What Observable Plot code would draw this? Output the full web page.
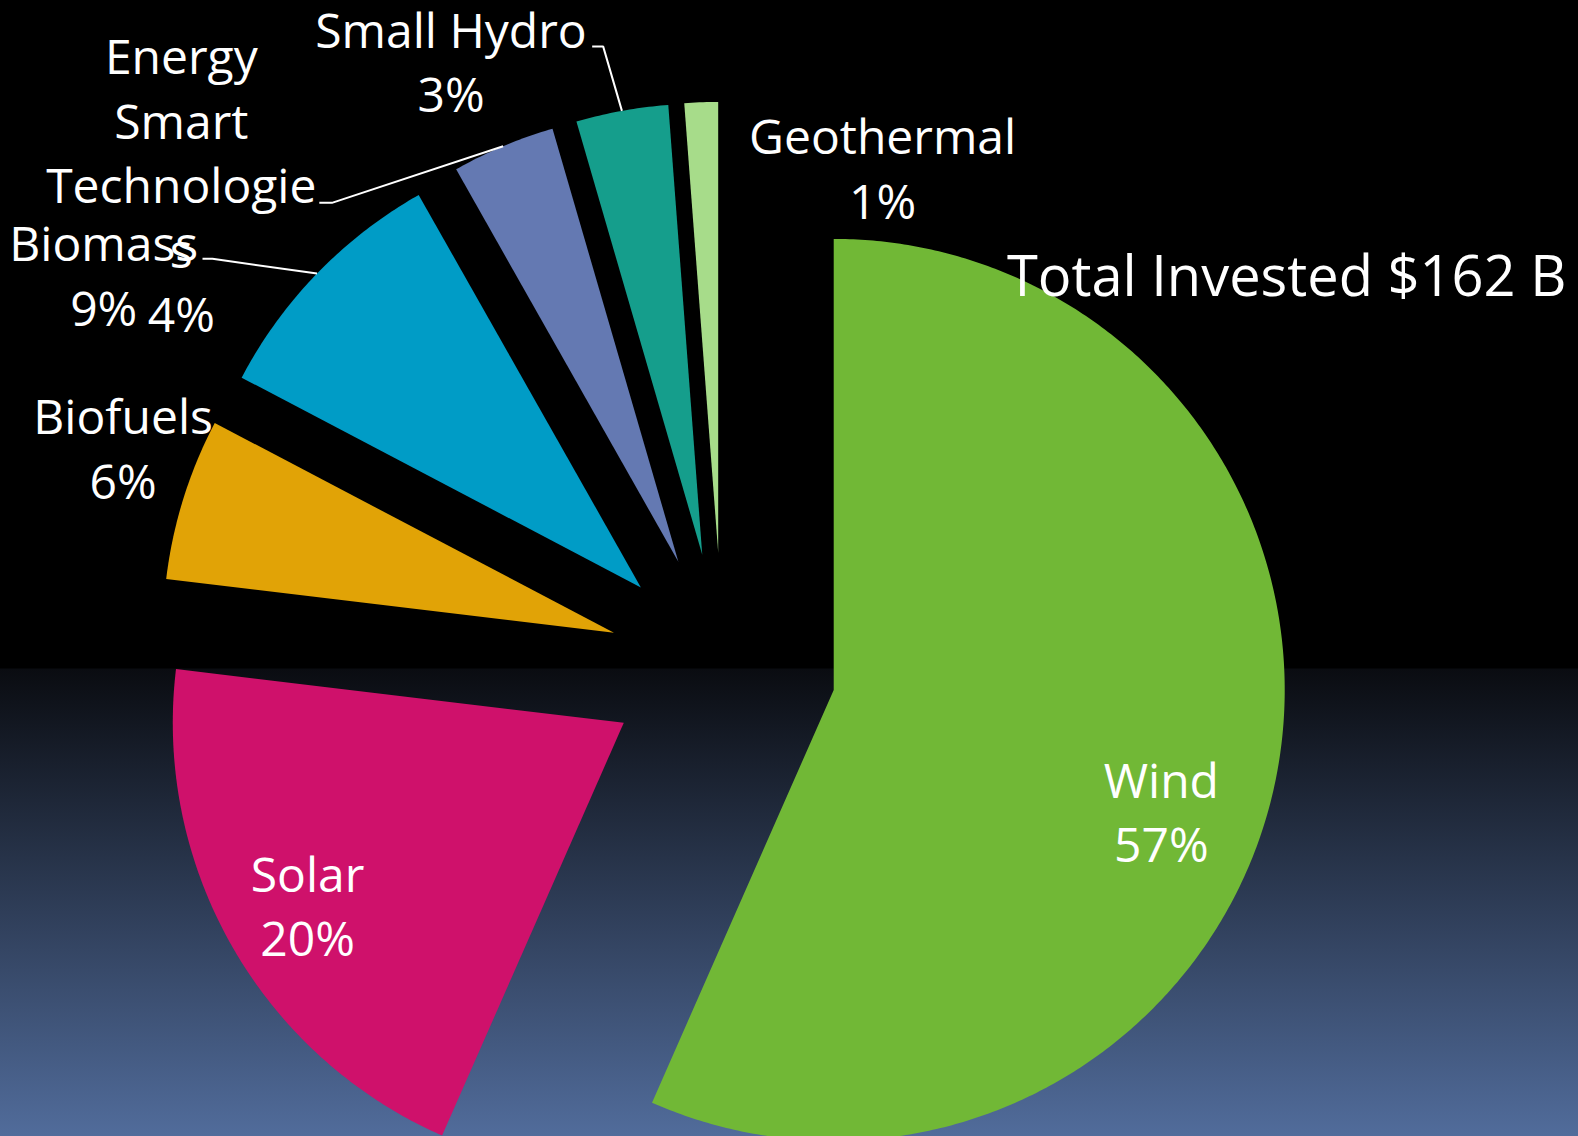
<!DOCTYPE html>
<html><head><meta charset="utf-8">
<script src="https://cdn.jsdelivr.net/npm/d3@7"></script>
<script src="https://cdn.jsdelivr.net/npm/@observablehq/plot@0.6"></script>
<style>
html,body{margin:0;padding:0;background:#000;overflow:hidden;}
#chart svg{display:block;}
</style></head><body><div id="chart"></div>
<script>
// ---- data ----
const categories = ["Wind","Solar","Biofuels","Biomass","Energy Smart Technologies","Small Hydro","Geothermal"];
const shares = [56.6, 20.3, 5.8, 9.1, 3.7, 3.3, 1.2];           // % of total invested
const colors = ["#71b836","#cf116b","#e1a306","#009cc6","#6479b2","#159e8c","#a7dc8a"];
const labelNames = ["Wind","Solar","Biofuels","Biomass","Energy\nSmart\nTechnologie\ns","Small Hydro","Geothermal"];
const totalLabel = "Total Invested $162 B";

// ---- layout (pie radius units, origin at pie centre, y up) ----
const W = 1578, H = 1136, R = 451, CX = 722, CY = 666;
const explode = 0.252;
const labelPos = [
  [0.973, -0.434], [-0.920, -0.642], [-1.329, 0.372], [-1.372, 0.756],
  [-1.200, 0.741], [-0.602, 1.229], [0.355, 0.9925]
];
const leaderStarts = {
  "Biomass": [[-1.153, 0.904], [-1.131, 0.904]],
  "Energy Smart Technologies": [[-0.894, 1.028], [-0.866, 1.028]],
  "Small Hydro": [[-0.289, 1.3745], [-0.2645, 1.3745]]
};
const totalPos = [1.871, 0.8224];

// ---- geometry from d3.pie ----
const arcs = d3.pie().sort(null).value(d => d)(shares);
const points = [];
const mids = {};
arcs.forEach((a, i) => {
  const name = categories[i];
  const mid = (a.startAngle + a.endAngle) / 2;
  const ox = explode * Math.sin(mid), oy = explode * Math.cos(mid);
  mids[name] = [ox + Math.sin(mid), oy + Math.cos(mid)];
  points.push({name, x: ox, y: oy});
  const n = Math.max(4, Math.ceil((a.endAngle - a.startAngle) / (Math.PI / 360)));
  for (let k = 0; k <= n; ++k) {
    const t = a.startAngle + (a.endAngle - a.startAngle) * k / n;
    points.push({name, x: ox + Math.sin(t), y: oy + Math.cos(t)});
  }
  points.push({name, x: ox, y: oy});
});

const leaders = [];
for (const [name, pts] of Object.entries(leaderStarts)) {
  for (const p of pts) leaders.push({name, x: p[0], y: p[1]});
  leaders.push({name, x: mids[name][0], y: mids[name][1]});
}

const labels = categories.map((c, i) => ({
  name: c,
  x: labelPos[i][0], y: labelPos[i][1],
  text: labelNames[i] + "\n" + Math.round(shares[i]) + "%"
}));

const font = "'Open Sans', 'Noto Sans', sans-serif";

const chart = Plot.plot({
  width: W, height: H, margin: 0,
  style: {
    background: "linear-gradient(to bottom, #000000 0px, #000000 668px, #0a0c11 669px, #516c9b 1136px)",
    fontFamily: font, color: "white", overflow: "visible"
  },
  x: {axis: null, domain: [-CX / R, (W - CX) / R]},
  y: {axis: null, domain: [(CY - H) / R, CY / R]},
  color: {domain: categories, range: colors},
  marks: [
    Plot.line(points, {x: "x", y: "y", z: "name", fill: "name", stroke: "none", curve: "linear"}),
    Plot.line(leaders, {x: "x", y: "y", z: "name", stroke: "white", strokeWidth: 2, strokeLinecap: "butt", strokeLinejoin: "miter"}),
    Plot.text(labels, {x: "x", y: "y", text: "text", fill: "white", fontSize: 48, lineHeight: 1.344,
      lineAnchor: "bottom", textAnchor: "middle", fontFamily: font}),
    Plot.text([totalLabel], {x: () => totalPos[0], y: () => totalPos[1], text: d => d, fill: "white",
      fontSize: 56, lineAnchor: "bottom", textAnchor: "end", fontFamily: font})
  ]
});
document.getElementById("chart").appendChild(chart);
</script>
</body></html>
